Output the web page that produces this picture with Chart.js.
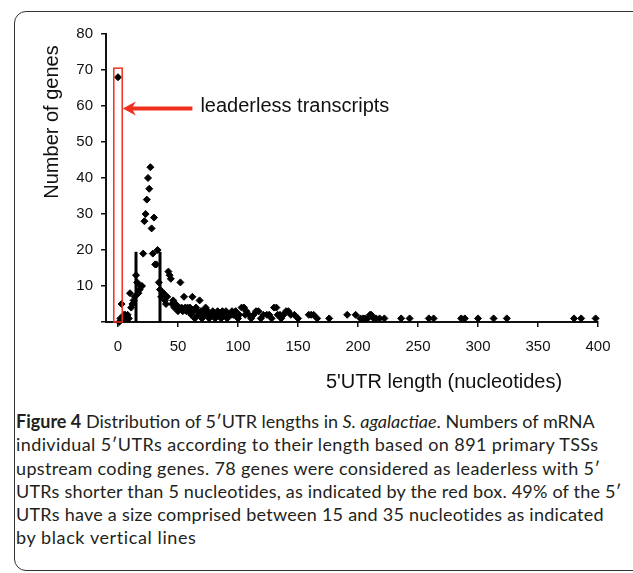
<!DOCTYPE html>
<html>
<head>
<meta charset="utf-8">
<script src="https://cdn.jsdelivr.net/npm/chart.js@4.4.1/dist/chart.umd.min.js"></script>
<style>
  html, body { margin: 0; padding: 0; background: #fff; }
  body { width: 633px; height: 573px; position: relative; overflow: hidden; }
  #frame {
    position: absolute; left: 14px; top: 11px; width: 700px; height: 558px;
    border: 1.5px solid #333; border-radius: 12px;
  }
  #chart-wrap { position: absolute; left: 0; top: 0; width: 633px; height: 400px; }
  #caption {
    position: absolute; left: 16px; top: 410px;
    font-family: Lato, "Open Sans", sans-serif; font-size: 18px; line-height: 23.3px;
    color: #231f20; white-space: nowrap;
  }
  #caption span { display: block; }
</style>
</head>
<body>
<div id="frame"></div>
<div id="chart-wrap"><canvas id="chart" width="633" height="400"></canvas></div>
<div id="caption">
  <span style="letter-spacing:0"><b>Figure 4</b> Distribution of 5′UTR lengths in <i>S. agalactiae</i>. Numbers of mRNA</span>
  <span style="letter-spacing:0.4px">individual 5′UTRs according to their length based on 891 primary TSSs</span>
  <span style="letter-spacing:0.35px">upstream coding genes. 78 genes were considered as leaderless with 5′</span>
  <span style="letter-spacing:0.2px">UTRs shorter than 5 nucleotides, as indicated by the red box. 49% of the 5′</span>
  <span style="letter-spacing:0.25px">UTRs have a size comprised between 15 and 35 nucleotides as indicated</span>
  <span style="letter-spacing:0.6px">by black vertical lines</span>
</div>
<script>
// 5'UTR length (nt)
const utrLengths = [
  0, 1, 2, 3, 4, 5, 6, 7, 8, 9, 10, 11, 12, 13, 14, 15, 16, 17, 18, 19,
  20, 21, 22, 23, 24, 25, 26, 27, 28, 29, 30, 31, 32, 33, 34, 35, 36, 37, 38, 39,
  40, 41, 42, 43, 44, 45, 46, 47, 48, 49, 50, 51, 52, 53, 54, 55, 56, 57, 58, 59,
  60, 61, 62, 63, 64, 65, 66, 67, 68, 69, 70, 71, 72, 73, 74, 75, 76, 77, 78, 79,
  80, 81, 82, 83, 84, 85, 86, 87, 88, 89, 90, 91, 92, 94, 95, 96, 97, 98, 100, 101,
  103, 105, 106, 107, 109, 111, 113, 115, 117, 119, 121, 124, 126, 128, 130, 132, 133, 135, 136, 138,
  140, 142, 144, 147, 150, 159, 161, 163, 166, 176, 191, 198, 202, 204, 206, 208, 210, 211, 213, 215,
  218, 222, 236, 243, 259, 263, 286, 289, 300, 313, 324, 380, 386, 398
];
// number of genes for each length
const geneCounts = [
  68, 0, 1, 5, 1, 2, 2, 1, 2, 1, 8, 4, 5, 6, 7, 13, 11, 8, 9, 10,
  10, 19, 28, 30, 34, 40, 37, 43, 26, 19, 29, 16, 16, 20, 11, 9, 7, 8, 8, 6,
  5, 7, 14, 13, 12, 5, 6, 4, 5, 4, 3, 4, 11, 4, 3, 7, 4, 3, 4, 3,
  4, 2, 7, 3, 1, 4, 3, 2, 6, 3, 1, 3, 2, 4, 2, 3, 1, 2, 2, 3,
  2, 1, 2, 3, 2, 2, 1, 3, 2, 2, 3, 1, 2, 2, 3, 2, 2, 3, 1, 2,
  4, 4, 2, 3, 2, 1, 2, 3, 3, 1, 2, 2, 2, 1, 4, 4, 2, 2, 1, 2,
  3, 3, 2, 2, 1, 2, 2, 2, 1, 1, 2, 2, 1, 1, 1, 1, 2, 2, 1, 1,
  1, 1, 1, 1, 1, 1, 1, 1, 1, 1, 1, 1, 1, 1
];
const xTicks = [0, 50, 100, 150, 200, 250, 300, 350, 400];
const yTicks = [0, 10, 20, 30, 40, 50, 60, 70, 80];
// leaderless box: [xMin, xMax, yMin, yMax]
const leaderBox = [-3.5, 3.5, 0, 70.5];
// black vertical lines (15 and 35 nt)
const rangeLines = [15, 35];
const rangeLineTop = 19.5;
// arrow (tail -> head) and its label
const arrowTail = [62, 59.3];
const arrowHead = [4, 59.3];
const arrowLabel = "leaderless transcripts";

const points = utrLengths.map((x, i) => ({ x: x, y: geneCounts[i] }));

const lineSets = rangeLines.map((x) => ({
  type: "line",
  data: [{ x: x, y: 0 }, { x: x, y: rangeLineTop }],
  borderColor: "#000",
  borderWidth: 3,
  pointRadius: 0,
  showLine: true,
}));

// red box, arrow, text and axis titles
const extras = {
  id: "extras",
  afterDatasetsDraw(chart) {
    const ctx = chart.ctx;
    const xs = chart.scales.x, ys = chart.scales.y;
    ctx.save();
    // red box
    const bx1 = xs.getPixelForValue(leaderBox[0]);
    const bx2 = xs.getPixelForValue(leaderBox[1]);
    const by1 = ys.getPixelForValue(leaderBox[3]);
    const by2 = ys.getPixelForValue(leaderBox[2]);
    ctx.strokeStyle = "#f0301f";
    ctx.lineWidth = 1.5;
    ctx.strokeRect(bx1, by1, bx2 - bx1, by2 - by1);
    // arrow
    const tx = xs.getPixelForValue(arrowTail[0]), ty = ys.getPixelForValue(arrowTail[1]);
    const hx = xs.getPixelForValue(arrowHead[0]), hy = ys.getPixelForValue(arrowHead[1]);
    ctx.strokeStyle = "#f0301f";
    ctx.fillStyle = "#f0301f";
    ctx.lineWidth = 4;
    ctx.beginPath();
    ctx.moveTo(tx, ty);
    ctx.lineTo(hx + 8, hy);
    ctx.stroke();
    ctx.beginPath();
    ctx.moveTo(hx, hy);
    ctx.lineTo(hx + 13, hy - 7);
    ctx.lineTo(hx + 9, hy);
    ctx.lineTo(hx + 13, hy + 7);
    ctx.closePath();
    ctx.fill();
    // label
    ctx.fillStyle = "#111";
    ctx.font = '20px "Liberation Sans", Arial, sans-serif';
    ctx.textAlign = "left";
    ctx.textBaseline = "middle";
    ctx.fillText(arrowLabel, tx + 8, ty - 2);
    // axis titles
    ctx.textAlign = "center";
    ctx.fillText("5'UTR length (nucleotides)", 444, 382);
    ctx.translate(52, 122);
    ctx.rotate(-Math.PI / 2);
    ctx.fillText("Number of genes", 0, 0);
    ctx.restore();
  },
};

const tickFont = { family: '"Liberation Sans", Arial, sans-serif', size: 15 };

new Chart(document.getElementById("chart"), {
  type: "scatter",
  data: {
    datasets: [
      {
        data: points,
        pointStyle: "rectRot",
        pointRadius: 3.5,
        pointBorderWidth: 1,
        backgroundColor: "#000",
        borderColor: "#000",
        clip: false,
      },
      ...lineSets,
    ],
  },
  options: {
    responsive: false,
    animation: false,
    events: [],
    layout: { padding: { left: 0, top: 34, right: 35, bottom: 0 } },
    plugins: { legend: { display: false }, tooltip: { enabled: false } },
    scales: {
      x: {
        type: "linear",
        min: -10,
        max: 400,
        afterBuildTicks: (s) => { s.ticks = xTicks.map((v) => ({ value: v })); },
        afterFit: (s) => { s.height = 78; },
        grid: { drawOnChartArea: false, drawTicks: true, tickLength: 5, color: "#111", lineWidth: 1.5 },
        border: { display: true, color: "#111", width: 2 },
        ticks: { color: "#111", font: tickFont, padding: 11, maxRotation: 0 },
      },
      y: {
        type: "linear",
        min: 0,
        max: 80,
        afterBuildTicks: (s) => { s.ticks = yTicks.map((v) => ({ value: v })); },
        afterFit: (s) => { s.width = 106; },
        grid: { drawOnChartArea: false, drawTicks: true, tickLength: 5, color: "#111", lineWidth: 1.5 },
        border: { display: true, color: "#111", width: 2 },
        ticks: {
          color: "#111",
          font: tickFont,
          padding: 8,
          callback: (v) => (v === 0 ? "" : v),
        },
      },
    },
  },
  plugins: [extras],
});
</script>
</body>
</html>
